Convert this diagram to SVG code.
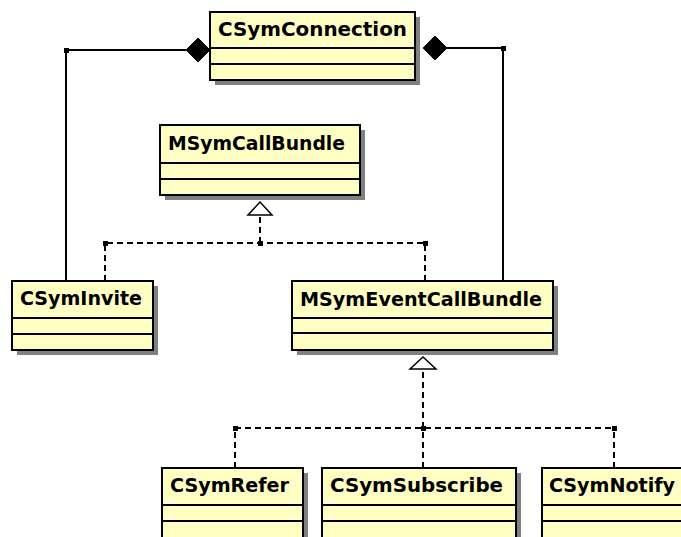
<svg xmlns="http://www.w3.org/2000/svg" width="681" height="537" viewBox="0 0 681 537">
<style>
.sh{fill:#808080}
.bx{fill:#ffffc4;stroke:#000;stroke-width:2}
.ln{stroke:#000;stroke-width:2}
.t{font-family:"DejaVu Sans","Liberation Sans",sans-serif;font-weight:bold;font-size:20px;fill:#000}
.c{fill:none;stroke:#000;stroke-width:2}
.d{fill:none;stroke:#000;stroke-width:2;stroke-dasharray:6,4}
.dot{fill:#000}
.dia{fill:#000;stroke:#000;stroke-width:1}
.tri{fill:#fff;stroke:#000;stroke-width:1.5}
</style>
<rect width="681" height="537" fill="#fff"/>
<g id="connectors">
  <polyline class="c" points="66,281 66,50 186,50"/>
  <polygon class="dia" points="186,50 198,38 210,50 198,62"/>
  <rect class="dot" x="64" y="48" width="5" height="5"/>
  <polyline class="c" points="503,281 503,48 447,48"/>
  <polygon class="dia" points="423,48 435,36 447,48 435,60"/>
  <rect class="dot" x="501" y="46" width="5" height="5"/>
  <path class="d" d="M105,281 V243 H425 M425,281 V243 M260,243 V215"/>
  <polygon class="tri" points="260,202 248,215 272,215"/>
  <rect class="dot" x="103" y="241" width="5" height="5"/>
  <rect class="dot" x="258" y="241" width="5" height="5"/>
  <rect class="dot" x="423" y="241" width="5" height="5"/>
  <path class="d" d="M235,468 V428 H614 M614,468 V428 M423,468 V369"/>
  <polygon class="tri" points="423,357 410,369 436,369"/>
  <rect class="dot" x="233" y="426" width="5" height="5"/>
  <rect class="dot" x="421" y="426" width="5" height="5"/>
  <rect class="dot" x="612" y="426" width="5" height="5"/>
</g>
<g id="CSymConnection">
  <rect class="sh" x="215" y="17" width="205" height="68"/>
  <rect class="bx" x="210" y="12" width="205" height="68"/>
  <line class="ln" x1="210" y1="48" x2="415" y2="48"/>
  <line class="ln" x1="210" y1="64" x2="415" y2="64"/>
  <text class="t" x="218" y="36" textLength="189" lengthAdjust="spacingAndGlyphs">CSymConnection</text>
</g>
<g id="MSymCallBundle">
  <rect class="sh" x="165" y="130" width="200" height="70"/>
  <rect class="bx" x="160" y="125" width="200" height="70"/>
  <line class="ln" x1="160" y1="163" x2="360" y2="163"/>
  <line class="ln" x1="160" y1="179" x2="360" y2="179"/>
  <text class="t" x="168" y="150" textLength="177" lengthAdjust="spacingAndGlyphs">MSymCallBundle</text>
</g>
<g id="CSymInvite">
  <rect class="sh" x="17" y="286" width="141" height="69"/>
  <rect class="bx" x="12" y="281" width="141" height="69"/>
  <line class="ln" x1="12" y1="318" x2="153" y2="318"/>
  <line class="ln" x1="12" y1="334" x2="153" y2="334"/>
  <text class="t" x="20" y="305" textLength="122" lengthAdjust="spacingAndGlyphs">CSymInvite</text>
</g>
<g id="MSymEventCallBundle">
  <rect class="sh" x="297" y="286" width="261" height="69"/>
  <rect class="bx" x="292" y="281" width="261" height="69"/>
  <line class="ln" x1="292" y1="318" x2="553" y2="318"/>
  <line class="ln" x1="292" y1="333" x2="553" y2="333"/>
  <text class="t" x="300" y="306" textLength="242" lengthAdjust="spacingAndGlyphs">MSymEventCallBundle</text>
</g>
<g id="CSymRefer">
  <rect class="sh" x="167" y="473" width="141" height="69"/>
  <rect class="bx" x="162" y="468" width="141" height="75"/>
  <line class="ln" x1="162" y1="505" x2="303" y2="505"/>
  <line class="ln" x1="162" y1="521" x2="303" y2="521"/>
  <text class="t" x="170" y="492" textLength="119" lengthAdjust="spacingAndGlyphs">CSymRefer</text>
</g>
<g id="CSymSubscribe">
  <rect class="sh" x="327" y="473" width="194" height="69"/>
  <rect class="bx" x="322" y="468" width="194" height="75"/>
  <line class="ln" x1="322" y1="505" x2="516" y2="505"/>
  <line class="ln" x1="322" y1="521" x2="516" y2="521"/>
  <text class="t" x="330" y="492" textLength="173" lengthAdjust="spacingAndGlyphs">CSymSubscribe</text>
</g>
<g id="CSymNotify">
  <rect class="sh" x="547" y="473" width="150" height="69"/>
  <rect class="bx" x="542" y="468" width="150" height="75"/>
  <line class="ln" x1="542" y1="505" x2="692" y2="505"/>
  <line class="ln" x1="542" y1="521" x2="692" y2="521"/>
  <text class="t" x="549" y="492" textLength="126" lengthAdjust="spacingAndGlyphs">CSymNotify</text>
</g>
</svg>
